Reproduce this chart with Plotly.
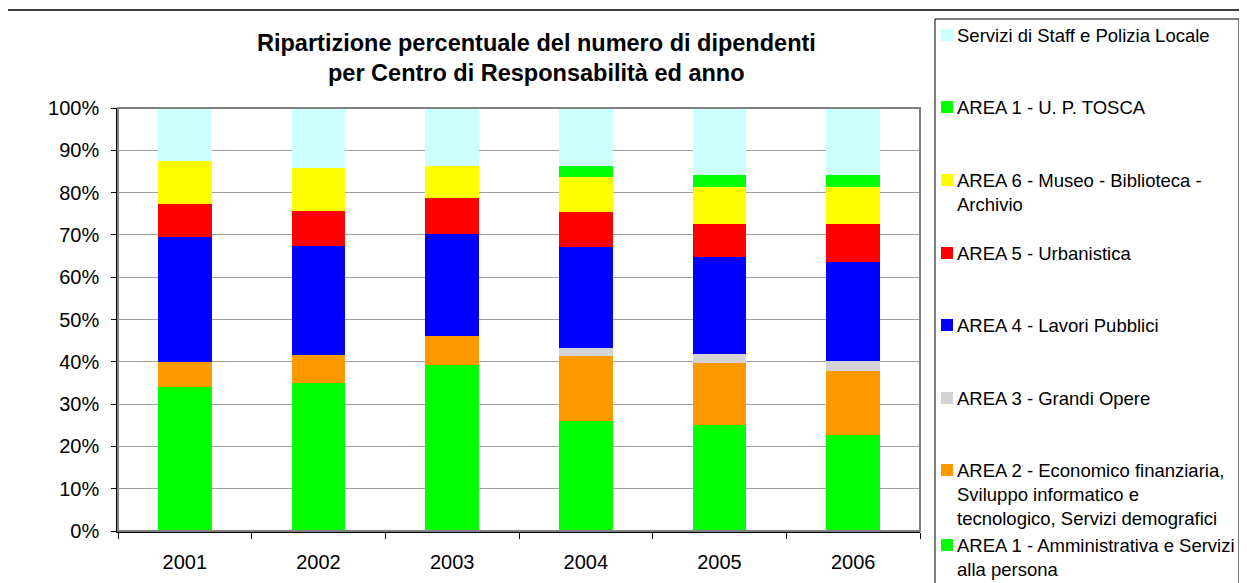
import plotly.graph_objects as go

years = ["2001", "2002", "2003", "2004", "2005", "2006"]

# stacking order bottom -> top
area1_amm = [34.0, 34.9, 39.3, 25.9, 25.0, 22.7]
area2_eco = [6.0, 6.6, 6.7, 15.4, 14.7, 15.2]
area3_go = [0.0, 0.0, 0.0, 1.9, 2.1, 2.4]
area4_lp = [29.5, 25.9, 24.1, 23.9, 22.9, 23.4]
area5_urb = [7.8, 8.3, 8.6, 8.3, 7.8, 8.8]
area6_mus = [10.2, 10.1, 7.6, 8.2, 8.8, 8.8]
area1_tosca = [0.0, 0.0, 0.0, 2.7, 2.8, 2.8]
staff = [12.5, 14.2, 13.7, 13.7, 15.9, 15.9]

series_names = [
    "AREA 1 - Amministrativa e Servizi<br>alla persona",
    "AREA 2 - Economico finanziaria,<br>Sviluppo informatico e<br>tecnologico, Servizi demografici",
    "AREA 3 - Grandi Opere",
    "AREA 4 - Lavori Pubblici",
    "AREA 5 - Urbanistica",
    "AREA 6 - Museo - Biblioteca -<br>Archivio",
    "AREA 1 - U. P. TOSCA",
    "Servizi di Staff e Polizia Locale",
]
series_values = [area1_amm, area2_eco, area3_go, area4_lp, area5_urb, area6_mus, area1_tosca, staff]
series_colors = ["#00FF00", "#FF9900", "#D3D3D3", "#0000FF", "#FF0000", "#FFFF00", "#00FF00", "#CCFFFF"]

title_lines = ["Ripartizione percentuale del numero di dipendenti",
               "per Centro di Responsabilità ed anno"]

OFF = 8  # page body margin
W, H = 1247 - OFF, 583 - OFF
# plot area in page pixels
PL, PR, PT, PB = 118, 920, 108, 531
L, R, T, B = PL - OFF, PR - OFF, PT - OFF, PB - OFF
FONT = "Liberation Sans, Arial, sans-serif"

def px(x):
    return (x - PL) / (PR - PL)

def py(y):
    return (PB - y) / (PB - PT)

fig = go.Figure()
for name, vals, col in zip(series_names, series_values, series_colors):
    fig.add_trace(go.Bar(x=years, y=vals, name=name, marker=dict(color=col, line=dict(width=0)),
                         showlegend=False))

shapes = []
annotations = []

# outer chart border (top/left visible)
shapes.append(dict(type="rect", xref="paper", yref="paper", x0=px(5), x1=px(1260), y0=py(600), y1=py(10),
                   line=dict(color="black", width=1.5), layer="below"))
# plot area border (gray)
shapes.append(dict(type="rect", xref="paper", yref="paper", x0=0, x1=1, y0=0, y1=1,
                   line=dict(color="#808080", width=2), layer="above"))
# legend box
shapes.append(dict(type="rect", xref="paper", yref="paper", x0=px(935), x1=px(1239), y0=py(600), y1=py(19),
                   line=dict(color="black", width=1)))

# legend entries top -> bottom
legend_y = [35, 107, 180, 253, 325, 398, 470, 545]
order = list(range(len(series_names)))[::-1]
for idx, yy in zip(order, legend_y):
    shapes.append(dict(type="rect", xref="paper", yref="paper", x0=px(941), x1=px(953),
                       y0=py(yy + 6), y1=py(yy - 6), fillcolor=series_colors[idx], line=dict(width=0)))
    annotations.append(dict(xref="paper", yref="paper", x=px(955), y=py(yy - 12), xanchor="left",
                            yanchor="top", align="left", showarrow=False, text=series_names[idx],
                            font=dict(family=FONT, size=18.5, color="black")))

# title
for line, yy in zip(title_lines, [43, 73]):
    annotations.append(dict(xref="paper", yref="paper", x=px(536), y=py(yy), xanchor="center",
                            yanchor="middle", showarrow=False, text="<b>" + line + "</b>",
                            font=dict(family=FONT, size=23.5, color="black")))

fig.update_layout(
    width=W, height=H,
    margin=dict(l=L, r=W - R, t=T, b=H - B, pad=0, autoexpand=False),
    paper_bgcolor="white", plot_bgcolor="white",
    barmode="stack", bargap=0.6,
    font=dict(family=FONT, size=20, color="black"),
    shapes=shapes, annotations=annotations,
    xaxis=dict(type="category", showgrid=False, showline=True, linecolor="black", linewidth=1.5,
               ticks="outside", tickson="boundaries", ticklen=6, tickcolor="black", automargin=False,
               tickfont=dict(size=20), ticklabelstandoff=12, fixedrange=True),
    yaxis=dict(range=[0, 100], dtick=10, ticksuffix="%", showgrid=True, gridcolor="#A0A0A0",
               gridwidth=1, showline=True, linecolor="black", linewidth=1.5, ticks="outside",
               ticklen=5, tickcolor="black", tickfont=dict(size=20), ticklabelstandoff=8,
               automargin=False, zeroline=False),
)

fig.write_html("out.html")
